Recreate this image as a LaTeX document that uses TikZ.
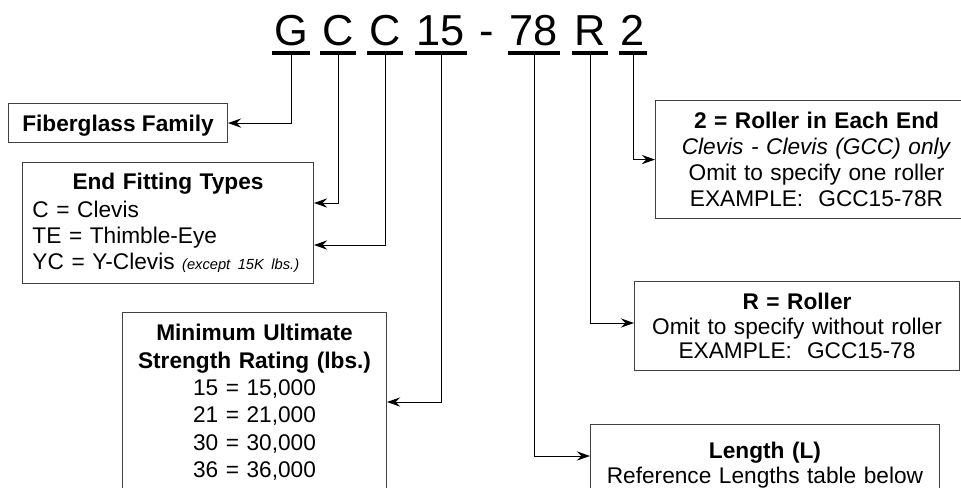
\documentclass[tikz,border=0pt]{standalone}
\usepackage{fontspec}
\setmainfont{Liberation Sans}
\usetikzlibrary{arrows.meta,calc}

\tikzset{
  codechar/.style={anchor=base,inner xsep=1.5pt,inner ysep=0pt,font=\fontsize{32.5}{39}\selectfont},
  codeline/.style={line width=2.3pt},
  infobox/.style={draw=black!75,line width=0.75pt,anchor=north west,inner xsep=7.5pt,inner ysep=8.5pt,font=\fontsize{17}{19.5}\selectfont},
  link/.style={line width=0.75pt,-{Stealth[length=10pt,width=7pt,inset=3.5pt]}},
}

\begin{document}
\begin{tikzpicture}[x=0.75pt,y=-0.75pt]
\useasboundingbox (0,0) rectangle (961,487);
\clip (0,0) rectangle (961,487);
% part number
\node[codechar] (cG) at (291,45) {G};
\node[codechar] (cC1) at (338,45) {C};
\node[codechar] (cC2) at (385,45) {C};
\node[codechar] (c15) at (441,45) {15};
\node[codechar] (cDash) at (487,45) {-};
\node[codechar] (c78) at (534,45) {78};
\node[codechar] (cR) at (590,45) {R};
\node[codechar] (c2) at (633,45) {2};
\foreach \c in {cG,cC1,cC2,c15,c78,cR,c2}
  \draw[codeline] ([yshift=-6pt]\c.base west) -- ([yshift=-6pt]\c.base east);
% boxes
\node[infobox,minimum width=164.25pt,text depth=0pt,font=\fontsize{17}{19.5}\selectfont\bfseries] (fam) at (8,103) {Fiberglass Family};
\node[infobox,inner ysep=7.9pt,text width=203.25pt,align=left] (fit) at (22,162)
  {\makebox[\linewidth]{\bfseries End Fitting Types}\\[1.5pt]
   C = Clevis\\
   TE = Thimble-Eye\\
   \mbox{YC = Y-Clevis \fontsize{11}{13}\selectfont\itshape (except 15K lbs.)}};
\node[infobox,inner ysep=8.8pt,text width=183pt,align=center,font=\fontsize{17}{20.5}\selectfont] (str) at (122,312)
  {\textbf{Minimum Ultimate}\\
   \textbf{Strength Rating (lbs.)}\\
   15 = 15,000\\
   21 = 21,000\\
   30 = 30,000\\
   36 = 36,000};
\node[infobox,inner ysep=8.8pt,text width=226.5pt,align=center] (end) at (655,100)
  {\textbf{2 = Roller in Each End}\\
   \textit{Clevis - Clevis (GCC) only}\\
   Omit to specify one roller\\
   EXAMPLE:\ \ GCC15-78R};
\node[infobox,inner ysep=8.8pt,text width=228.75pt,align=center,font=\fontsize{17}{18.4}\selectfont] (rol) at (634,281)
  {\textbf{R = Roller}\\
   Omit to specify without roller\\
   EXAMPLE:\ \ GCC15-78};
\node[infobox,inner ysep=13.5pt,text width=246.75pt,align=center,font=\fontsize{17}{18.6}\selectfont] (len) at (590,424)
  {\textbf{Length (L)}\\
   Reference Lengths table below};
% leaders
\draw[link] ([yshift=-6pt]cG.base) |- (fam.east);
\draw[link] ([yshift=-6pt]cC1.base) |- ($(fit.north east)+(0,41)$);
\draw[link] ([yshift=-6pt]cC2.base) |- ($(fit.north east)+(0,83)$);
\draw[link] ([yshift=-6pt]c15.base) |- ($(str.north east)+(0,90)$);
\draw[link] ([yshift=-6pt]c78.base) |- ($(len.north west)+(0,32)$);
\draw[link] ([yshift=-6pt]cR.base) |- ($(rol.north west)+(0,42)$);
\draw[link] ([yshift=-6pt]c2.base) |- (end.west);
\end{tikzpicture}
\end{document}
